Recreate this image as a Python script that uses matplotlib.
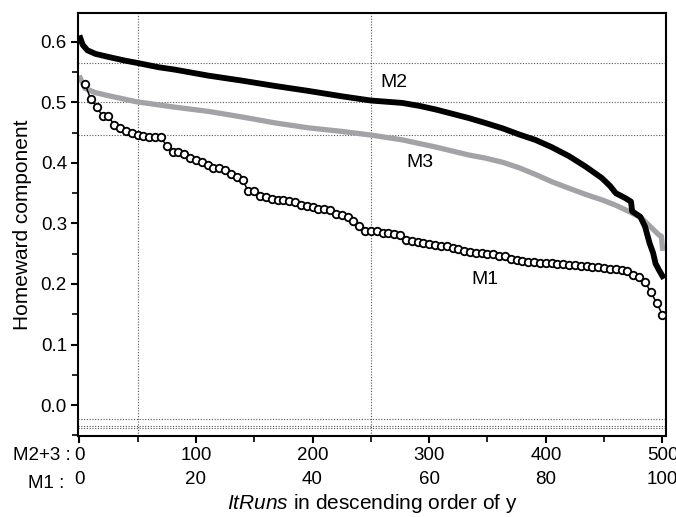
import matplotlib.pyplot as plt
from matplotlib.ticker import MultipleLocator, FormatStrFormatter

plt.rcParams['font.family'] = 'Liberation Sans'
plt.rcParams['mathtext.fontset'] = 'custom'
plt.rcParams['mathtext.it'] = 'Liberation Sans:italic'
plt.rcParams['mathtext.rm'] = 'Liberation Sans'

# M2 and M3: 500 runs each, sorted in descending order
m2_rank = [1, 3, 7, 14, 25, 39, 50, 68, 82, 111, 139, 168, 196, 225, 250,
           277, 292, 306, 320, 334, 348, 363, 377, 391, 405, 420, 434, 448,
           455, 460, 468, 473, 474, 481, 485, 489, 492, 494, 497, 500]
m2_y = [0.606, 0.595, 0.586, 0.580, 0.575, 0.569, 0.565, 0.558, 0.554, 0.544,
        0.536, 0.527, 0.519, 0.510, 0.503, 0.499, 0.494, 0.488, 0.481, 0.474,
        0.466, 0.457, 0.447, 0.438, 0.426, 0.411, 0.394, 0.375, 0.362, 0.350,
        0.342, 0.336, 0.320, 0.311, 0.295, 0.267, 0.251, 0.234, 0.223, 0.213]

m3_rank = [1, 5, 14, 25, 49, 82, 111, 139, 168, 196, 225, 250, 277, 306, 334,
           348, 363, 377, 391, 405, 420, 434, 448, 460, 471, 482, 491, 497,
           499, 500]
m3_y = [0.540, 0.523, 0.516, 0.511, 0.501, 0.492, 0.485, 0.476, 0.466, 0.458,
        0.452, 0.446, 0.438, 0.426, 0.413, 0.408, 0.401, 0.392, 0.381, 0.369,
        0.358, 0.348, 0.339, 0.330, 0.320, 0.309, 0.292, 0.281, 0.279, 0.259]

# M1: 100 runs, sorted in descending order
m1_y = [0.530, 0.505, 0.493, 0.477, 0.477, 0.463, 0.457, 0.453, 0.449, 0.446,
        0.444, 0.443, 0.442, 0.442, 0.428, 0.418, 0.418, 0.415, 0.408, 0.404,
        0.401, 0.397, 0.392, 0.391, 0.389, 0.381, 0.377, 0.372, 0.353, 0.353,
        0.346, 0.343, 0.341, 0.339, 0.338, 0.337, 0.336, 0.331, 0.329, 0.327,
        0.324, 0.324, 0.323, 0.316, 0.314, 0.310, 0.304, 0.296, 0.288, 0.288,
        0.287, 0.285, 0.284, 0.282, 0.281, 0.273, 0.271, 0.269, 0.267, 0.266,
        0.265, 0.263, 0.262, 0.260, 0.257, 0.255, 0.253, 0.252, 0.251, 0.250,
        0.249, 0.247, 0.246, 0.242, 0.240, 0.238, 0.237, 0.237, 0.235, 0.234,
        0.234, 0.233, 0.233, 0.232, 0.232, 0.230, 0.229, 0.228, 0.228, 0.227,
        0.225, 0.225, 0.223, 0.222, 0.215, 0.212, 0.204, 0.186, 0.169, 0.149]
m1_rank = list(range(1, 101))
m1_scale = 5  # one M1 run spans five M2+3 runs on the shared axis

m23_ticks = [0, 100, 200, 300, 400, 500]
m1_ticks = [0, 20, 40, 60, 80, 100]

# dotted reference lines
ref_x = [50, 250]
ref_y = [0.565, 0.501, 0.446, -0.023, -0.035, -0.038]

fig = plt.figure(figsize=(6.76, 5.17), dpi=100)
ax = fig.add_axes([0.1154, 0.1567, 0.8698, 0.8187])

for x in ref_x:
    ax.axvline(x, color='#555555', lw=0.8, ls=(0, (1, 1.5)), zorder=1)
for y in ref_y:
    ax.axhline(y, color='#555555', lw=0.8, ls=(0, (1, 1.5)), zorder=1)

ax.plot(m3_rank, m3_y, color='#a2a2a7', lw=3.8, solid_joinstyle='round', zorder=2)
ax.plot(m2_rank, m2_y, color='black', lw=4.2, solid_joinstyle='round', zorder=3)
ax.plot([r * m1_scale for r in m1_rank], m1_y, 'o-', color='black',
        mfc='white', ms=5.4, mew=1.3, lw=1.1, zorder=4)

ax.text(270, 0.532, 'M2', fontsize=14, ha='center', va='center')
ax.text(292, 0.400, 'M3', fontsize=14, ha='center', va='center')
ax.text(348, 0.208, 'M1', fontsize=14, ha='center', va='center')

ax.set_xlim(-1, 503)
ax.set_ylim(-0.051, 0.648)

for s in ax.spines.values():
    s.set_linewidth(1.5)

ax.set_xticks(m23_ticks)
ax.xaxis.set_minor_locator(MultipleLocator(50))
ax.yaxis.set_major_locator(MultipleLocator(0.1))
ax.yaxis.set_minor_locator(MultipleLocator(0.05))
ax.yaxis.set_major_formatter(FormatStrFormatter('%.1f'))
ax.tick_params(which='major', direction='out', length=5, width=1.5,
               labelsize=13.5, pad=3)
ax.tick_params(which='minor', direction='out', length=4, width=1.2)
ax.set_ylabel('Homeward component', fontsize=15, labelpad=6)

# second row of x labels for M1
sec = ax.secondary_xaxis('bottom', functions=(lambda x: x / m1_scale,
                                              lambda x: x * m1_scale))
sec.set_xticks(m1_ticks)
sec.tick_params(length=0, pad=25, labelsize=13.5)
sec.spines['bottom'].set_visible(False)
sec.set_xlabel(r'$\it{ItRuns}$ in descending order of y', fontsize=15, labelpad=3)

fig.text(71 / 676, 1 - 456 / 517, 'M2+3 :', fontsize=13.5, ha='right', va='center')
fig.text(64 / 676, 1 - 484 / 517, 'M1 :', fontsize=13.5, ha='right', va='center')

plt.savefig('out.png', dpi=100)
